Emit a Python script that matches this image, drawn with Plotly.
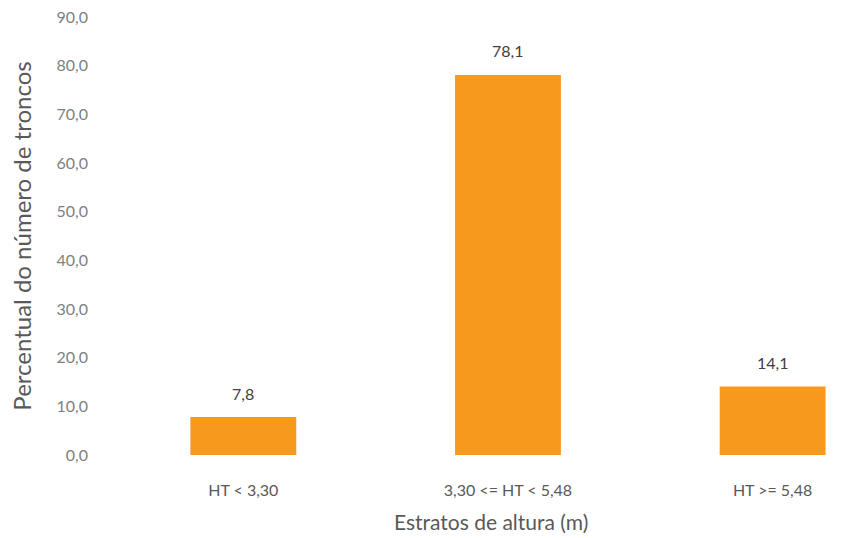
import plotly.graph_objects as go

categories = ["HT < 3,30", "3,30 <= HT < 5,48", "HT >= 5,48"]
values = [7.8, 78.1, 14.1]
y_ticks = [0, 10, 20, 30, 40, 50, 60, 70, 80, 90]

xpos = list(range(len(categories)))

fig = go.Figure(go.Bar(
    x=xpos, y=values, width=0.4,
    marker=dict(color="#F7991C", line=dict(width=0)),
    hoverinfo="skip",
))

for xi, v in zip(xpos, values):
    fig.add_annotation(
        x=xi, y=v, xref="x", yref="y",
        text=f"{v:.1f}".replace(".", ","),
        showarrow=False, yanchor="middle", yshift=24,
        font=dict(family="Lato", size=16, color="#404040"),
    )

fig.add_annotation(
    x=0.513, y=0, xref="paper", yref="paper",
    text="Estratos de altura (m)", showarrow=False,
    xanchor="center", yanchor="middle", yshift=-66,
    font=dict(family="Lato", size=21, color="#595959"),
)

fig.update_layout(
    width=852, height=538,
    margin=dict(l=111, r=0, t=17, b=83),
    paper_bgcolor="white", plot_bgcolor="white",
    separators=",.",
    font=dict(family="Lato", size=16, color="#808080"),
    showlegend=False,
    xaxis=dict(
        range=[-0.5, 2.3], tickvals=xpos, ticktext=categories,
        showgrid=False, zeroline=False, showline=False,
        ticks="", ticklabelstandoff=24,
        tickfont=dict(size=16, color="#595959"),
    ),
    yaxis=dict(
        range=[0, 90], tickvals=y_ticks, tickformat=".1f",
        showgrid=False, zeroline=False, showline=False,
        ticks="", ticklabelstandoff=22,
        tickfont=dict(size=16, color="#808080"),
        title=dict(text="Percentual do número de troncos", standoff=18,
                   font=dict(size=24, color="#595959")),
    ),
)

fig.write_html("out.html")
